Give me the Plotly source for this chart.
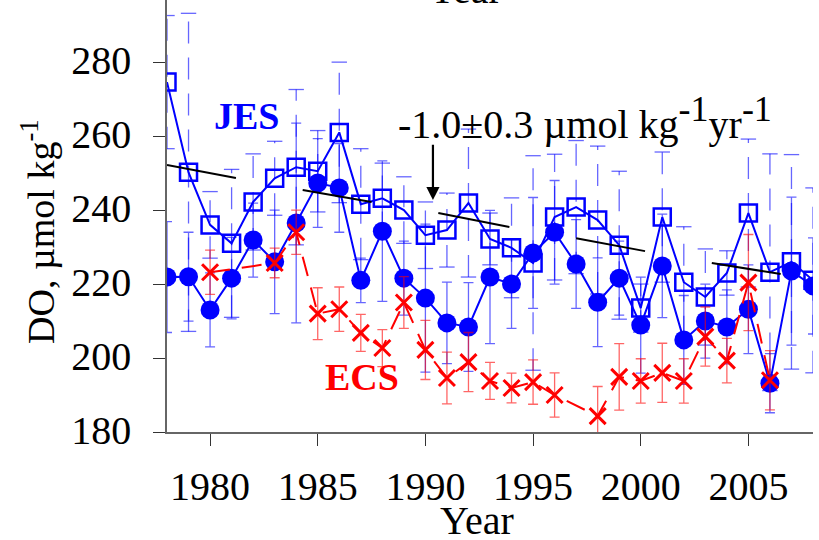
import plotly.graph_objects as go

# Years of the JES series
years = list(range(1978, 2009))

# JES upper layer (open squares) and its uncertainty
jes_upper = [274.6, 250.2, 236.0, 231.0, 242.2, 248.6, 251.6, 250.5, 261.0, 241.6,
             243.2, 240.0, 233.2, 234.6, 241.9, 232.2, 229.8, 225.7, 238.1, 240.8,
             237.3, 230.5, 213.5, 238.1, 220.5, 216.5, 223.0, 239.2, 223.2, 226.0, 221.0]
jes_upper_err = [18, 43, 9, 20, 13, 10, 21, 11, 19, 15,
                 9.5, 9, 9, 10, 20, 7, 13.5, 29, 17, 18,
                 20, 20, 6.5, 17.6, 15, 13, 6, 20, 32, 29, 25]

# JES deeper layer (filled circles) and its uncertainty
jes_lower = [221.9, 222.0, 213.0, 221.6, 231.9, 226.0, 236.5, 247.3, 246.0, 221.0,
             234.3, 221.6, 216.2, 209.5, 208.4, 221.9, 220.0, 228.4, 234.0, 225.4,
             215.1, 221.6, 208.9, 224.9, 204.9, 210.0, 208.4, 213.2, 193.2, 223.5, 219.5]
jes_lower_err = [15, 12, 10, 11, 10, 14, 27, 12, 12, 6,
                 19, 10, 20, 11, 12, 18, 12, 15, 14, 12,
                 12, 10, 13, 14, 12, 10, 10, 12, 8, 20, 13]

# ECS series (crosses)
ecs_years = [1980, 1983, 1984, 1985, 1986, 1987, 1988, 1989, 1990, 1991, 1992, 1993,
             1994, 1995, 1996, 1998, 1999, 2000, 2001, 2002, 2003, 2004, 2005, 2006]
ecs = [223.2, 225.7, 234.0, 212.0, 213.2, 206.8, 202.7, 215.0, 202.2, 194.6, 198.9, 193.8,
       191.9, 193.5, 190.0, 184.3, 194.9, 193.8, 196.0, 193.8, 205.8, 199.3, 220.4, 194.0]
ecs_err = [6, 4, 6, 7, 6, 5, 5, 7, 8, 7, 8, 5,
           4, 6, 6, 8, 9, 6, 8, 6, 8, 6, 13, 8]

# Trend segments (-1.0 umol/kg/yr)
trend_x0 = [1978.0, 1984.3, 1990.6, 1997.0, 2003.3]
trend_x1 = [1981.2, 1987.5, 1993.9, 2000.2, 2006.5]
trend_y0 = [252.2, 245.4, 239.2, 232.4, 225.7]
trend_y1 = [248.7, 242.2, 235.4, 228.9, 222.7]

x_ticks = [1980, 1985, 1990, 1995, 2000, 2005]
y_ticks = [180, 200, 220, 240, 260, 280]

BLUE = "#0000FF"
RED = "#FF0000"
BAR_BLUE = "rgba(0,0,255,0.6)"
FONT = "Liberation Serif"

fig = go.Figure()

# Dashed error bars with end caps for the upper layer
bx, by, cx, cy = [], [], [], []
for x, v, e in zip(years, jes_upper, jes_upper_err):
    bx += [x, x, None]
    by += [v - e, v + e, None]
    cx += [x, x]
    cy += [v - e, v + e]
fig.add_trace(go.Scatter(x=bx, y=by, mode="lines",
                         line=dict(color=BAR_BLUE, width=1.3, dash="22px,14px"),
                         showlegend=False, hoverinfo="skip"))
fig.add_trace(go.Scatter(x=cx, y=cy, mode="markers",
                         marker=dict(symbol="line-ew-open", size=11, color=BAR_BLUE,
                                     line=dict(color=BAR_BLUE, width=1.3)),
                         showlegend=False, hoverinfo="skip"))

fig.add_trace(go.Scatter(
    x=years, y=jes_upper, mode="lines+markers",
    line=dict(color=BLUE, width=2),
    marker=dict(symbol="square-open", size=17, color=BLUE, line=dict(width=2.5, color=BLUE)),
    showlegend=False))

fig.add_trace(go.Scatter(
    x=years, y=jes_lower, mode="lines+markers",
    line=dict(color=BLUE, width=2),
    marker=dict(symbol="circle", size=19, color=BLUE),
    error_y=dict(type="data", array=jes_lower_err, color=BAR_BLUE,
                 thickness=1.3, width=5),
    showlegend=False))

fig.add_trace(go.Scatter(
    x=ecs_years, y=ecs, mode="lines+markers",
    line=dict(color=RED, width=2, dash="20px,12px"),
    marker=dict(symbol="x-thin-open", size=16, color=RED, line=dict(width=3, color=RED)),
    error_y=dict(type="data", array=ecs_err, color="rgba(255,0,0,0.6)",
                 thickness=1.3, width=5),
    showlegend=False))

tx, ty = [], []
for a, b, c, d in zip(trend_x0, trend_x1, trend_y0, trend_y1):
    tx += [a, b, None]
    ty += [c, d, None]
fig.add_trace(go.Scatter(x=tx, y=ty, mode="lines", line=dict(color="black", width=2),
                         showlegend=False, hoverinfo="skip"))

SUP = "<sup><span style='font-size:36px'>-1</span></sup>"

fig.add_annotation(x=1981.7, y=265.4, text="<b>JES</b>", showarrow=False,
                   font=dict(family=FONT, size=38, color=BLUE))
fig.add_annotation(x=1987.05, y=194.9, text="<b>ECS</b>", showarrow=False,
                   font=dict(family=FONT, size=38, color=RED))
fig.add_annotation(x=1997.4, y=264.9,
                   text="-1.0\u00b10.3 \u00b5mol kg" + SUP + "yr" + SUP,
                   showarrow=False, font=dict(family=FONT, size=40, color="black"))
fig.add_annotation(x=1990.35, y=242.7, ax=1990.35, ay=258.1, axref="x", ayref="y",
                   xref="x", yref="y", text="", showarrow=True,
                   arrowhead=2, arrowsize=1.2, arrowwidth=2.2, arrowcolor="black")
# Axis title of the panel above, partly visible at the top edge
fig.add_annotation(x=1991.83, y=1, xref="x", yref="paper", yanchor="bottom", yshift=-14,
                   text="Year", showarrow=False,
                   font=dict(family=FONT, size=40, color="black"))
# Axis titles
fig.add_annotation(x=1992.4, y=0, xref="x", yref="paper", yanchor="middle", yshift=-88,
                   text="Year", showarrow=False,
                   font=dict(family=FONT, size=40, color="black"))
fig.add_annotation(x=0, y=0.463, xref="paper", yref="paper", xanchor="center",
                   yanchor="middle", xshift=-129, textangle=-90,
                   text="DO, \u00b5mol kg<sup>-1</sup>", showarrow=False,
                   font=dict(family=FONT, size=38, color="black"))

fig.update_layout(
    width=819, height=540,
    margin=dict(l=167, r=6, t=0, b=108),
    paper_bgcolor="white", plot_bgcolor="white",
    font=dict(family=FONT, size=40, color="black"),
)
fig.update_xaxes(
    range=[1978, 2008], tickvals=x_ticks, ticktext=[str(v) for v in x_ticks],
    showgrid=False, zeroline=False, showline=True, linecolor="#666", linewidth=1.5,
    ticks="outside", ticklen=12, tickcolor="#333", tickwidth=1,
    ticklabelstandoff=6,
    tickfont=dict(family=FONT, size=40),
)
fig.update_yaxes(
    range=[180, 296.8], tickvals=y_ticks,
    showgrid=False, zeroline=False, showline=True, linecolor="#666", linewidth=1.5,
    ticks="outside", ticklen=12, tickcolor="#333", tickwidth=1,
    ticklabelstandoff=14, ticklabelshift=-2,
    tickfont=dict(family=FONT, size=40),
)

fig.write_html("out.html")
